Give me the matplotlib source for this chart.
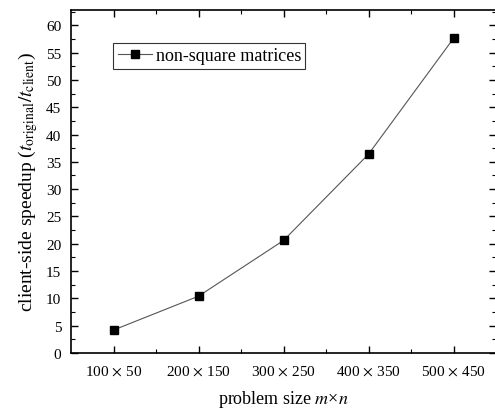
import matplotlib
matplotlib.use("Agg")
from matplotlib import pyplot as plt
from matplotlib.ticker import MultipleLocator

plt.rcParams["font.family"] = ["Liberation Serif", "DejaVu Serif"]
plt.rcParams["mathtext.fontset"] = "stix"

sizes = ["100$\\,\\times\\,$50", "200$\\,\\times\\,$150", "300$\\,\\times\\,$250",
         "400$\\,\\times\\,$350", "500$\\,\\times\\,$450"]
speedup = [4.2, 10.4, 20.6, 36.4, 57.6]

fig = plt.figure(figsize=(4.95, 4.14), dpi=100)
ax = fig.add_axes([71 / 495, 60 / 414, 425 / 495, 343 / 414])

pos = list(range(1, len(sizes) + 1))
ax.plot(pos, speedup, color="#555555", linewidth=0.8, marker="s", markersize=6,
        markerfacecolor="black", markeredgecolor="black", label="non-square matrices")

ax.set_xlim(0.5, 5.5)
ax.set_ylim(0, 62.8)
ax.set_xticks(pos)
ax.set_xticklabels(sizes)
ax.set_xticks([1.5, 2.5, 3.5, 4.5], minor=True)
ax.yaxis.set_major_locator(MultipleLocator(5))
ax.yaxis.set_minor_locator(MultipleLocator(2.5))
ax.tick_params(which="both", direction="in", top=True, right=True, labelsize=11, colors="black")
ax.tick_params(which="major", length=5, width=1)
ax.tick_params(which="minor", length=3, width=0.8)
ax.tick_params(axis="x", pad=8)
ax.tick_params(axis="y", pad=7)
for s in ax.spines.values():
    s.set_linewidth(1.2)
ax.spines["right"].set_visible(False)

ax.set_ylabel("client-side speedup ($t_{\\mathrm{original}}/t_{\\mathrm{client}}$)", fontsize=14, labelpad=4)
ax.set_xlabel("problem size $m$\u00d7$n$", fontsize=13, labelpad=7)

leg = ax.legend(loc="upper left", bbox_to_anchor=(0.099, 0.905), fontsize=13, frameon=True,
                fancybox=False, edgecolor="black", handlelength=1.9, borderpad=0.25,
                handletextpad=0.2, borderaxespad=0)
leg.get_frame().set_linewidth(0.8)

fig.savefig("out.png", dpi=100)
